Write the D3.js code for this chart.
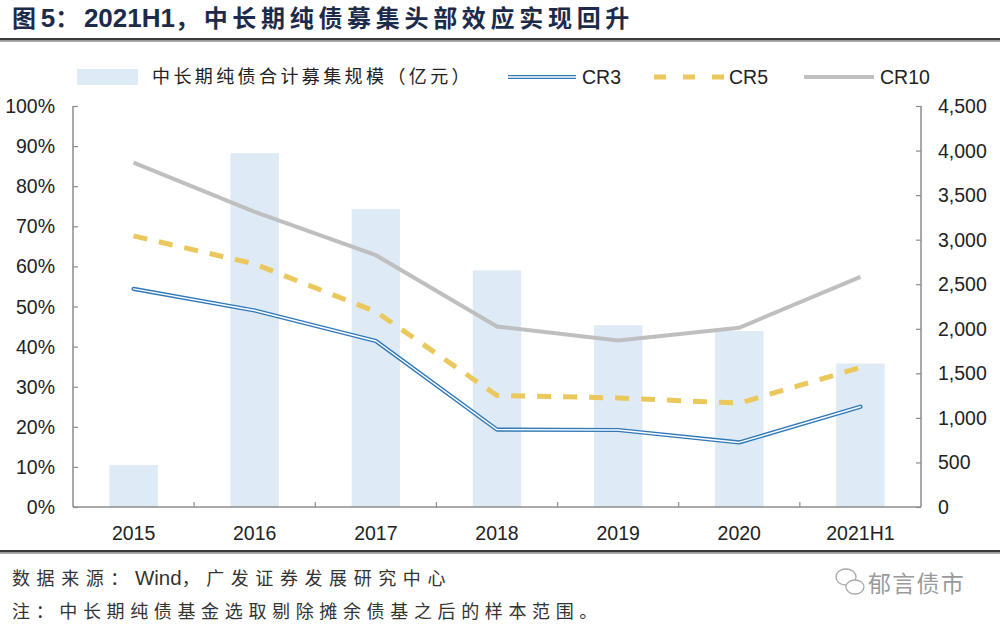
<!DOCTYPE html>
<html>
<head>
<meta charset="utf-8">
<script src="https://cdn.jsdelivr.net/npm/d3@7"></script>
<style>
  body { margin: 0; background: #fff; }
  svg { display: block; }
  text { font-family: "Liberation Sans", "Noto Sans CJK SC", sans-serif; }
</style>
</head>
<body>
<svg id="chart" width="1000" height="628"></svg>
<script>
const years = ["2015", "2016", "2017", "2018", "2019", "2020", "2021H1"];
const fundSize = [470, 3970, 3345, 2655, 2040, 1975, 1610];
const cr3 = [54.4, 49.0, 41.4, 19.3, 19.2, 16.1, 25.0];
const cr5 = [67.6, 60.6, 48.7, 27.8, 27.2, 25.9, 34.8];
const cr10 = [85.9, 73.6, 62.8, 45.0, 41.5, 44.7, 57.4];
const leftTicks = [0, 10, 20, 30, 40, 50, 60, 70, 80, 90, 100];
const rightTicks = [0, 500, 1000, 1500, 2000, 2500, 3000, 3500, 4000, 4500];

const svg = d3.select("#chart");
const plotLeft = 73, plotRight = 921, plotTop = 106, plotBottom = 507;
const axisColor = "#8c8c8c";
const labelColor = "#222";
const numSize = "19.5px";

// mixed CJK / latin text: latin kept tight, CJK spaced out to reach the target width
const fitText = (xPos, yPos, str, target, cjkSize, latinSize, attrs) => {
    const t = svg.append("text").attr("x", xPos).attr("y", yPos);
    Object.entries(attrs).forEach(([k, v]) => t.attr(k, v));
    const parts = str.match(/[\u3000-\u9fff\uff00-\uffef]+|[^\u3000-\u9fff\uff00-\uffef]+/g);
    let cjkCount = 0;
    const spans = parts.map(p => {
        const isCjk = /[\u3000-\u9fff\uff00-\uffef]/.test(p);
        if (isCjk) cjkCount += p.length;
        return t.append("tspan").attr("font-size", isCjk ? cjkSize : latinSize)
            .attr("class", isCjk ? "cjk" : "latin").text(p);
    });
    const w = t.node().getComputedTextLength();
    const ls = cjkCount ? (target - w) / cjkCount : 0;
    t.selectAll("tspan.cjk").attr("letter-spacing", ls);
    return t;
};

// title + rules
fitText(12, 27, "图5：2021H1，中长期纯债募集头部效应实现回升", 622, 24, 26,
    {"font-weight": "bold", "fill": "#1c2b4a"});
svg.append("rect").attr("x", 0).attr("y", 38).attr("width", 1000).attr("height", 2.5).attr("fill", "#3a3a3a");
svg.append("rect").attr("x", 0).attr("y", 41).attr("width", 1000).attr("height", 1).attr("fill", "#aaa");
svg.append("rect").attr("x", 0).attr("y", 550).attr("width", 1000).attr("height", 2.5).attr("fill", "#3a3a3a");
svg.append("rect").attr("x", 0).attr("y", 553).attr("width", 1000).attr("height", 1).attr("fill", "#aaa");

const x = d3.scaleBand().domain(years).range([plotLeft, plotRight]).paddingInner(0.6).paddingOuter(0.3);
const xEdge = d3.scaleBand().domain(years).range([plotLeft, plotRight]);
const yL = d3.scaleLinear().domain([0, 100]).range([plotBottom, plotTop]);
const yR = d3.scaleLinear().domain([0, 4500]).range([plotBottom, plotTop]);
const cx = d => x(d) + x.bandwidth() / 2;

// bars
svg.append("g").selectAll("rect").data(years).join("rect")
    .attr("x", d => x(d)).attr("width", x.bandwidth())
    .attr("y", (d, i) => yR(fundSize[i])).attr("height", (d, i) => plotBottom - yR(fundSize[i]))
    .attr("fill", "#deeaf6");

// axes
const leftAxis = svg.append("g").attr("transform", `translate(${plotLeft},0)`)
    .call(d3.axisRight(yL).tickValues(leftTicks).tickSize(5).tickFormat(""));
const rightAxis = svg.append("g").attr("transform", `translate(${plotRight},0)`)
    .call(d3.axisLeft(yR).tickValues(rightTicks).tickSize(5).tickFormat(""));
const bottomAxis = svg.append("g").attr("transform", `translate(0,${plotBottom})`)
    .call(d3.axisTop(xEdge).tickSize(0).tickFormat(""));
[leftAxis, rightAxis, bottomAxis].forEach(g => {
    g.select(".domain").attr("stroke", axisColor).attr("stroke-width", 1.5);
    g.selectAll(".tick line").attr("stroke", axisColor).attr("stroke-width", 1.2);
});
leftAxis.select(".domain").attr("d", `M0,${plotTop}V${plotBottom}`);
rightAxis.select(".domain").attr("d", `M0,${plotTop}V${plotBottom}`);
bottomAxis.select(".domain").attr("d", `M${plotLeft},0H${plotRight}`);
svg.append("g").selectAll("line").data(years.slice(1)).join("line")
    .attr("x1", d => xEdge(d)).attr("x2", d => xEdge(d))
    .attr("y1", plotBottom).attr("y2", plotBottom - 5)
    .attr("stroke", axisColor).attr("stroke-width", 1.2);

svg.append("g").selectAll("text").data(leftTicks).join("text")
    .attr("x", 55).attr("y", d => yL(d) + 7).attr("text-anchor", "end")
    .attr("font-size", numSize).attr("fill", labelColor).text(d => d + "%");
svg.append("g").selectAll("text").data(rightTicks).join("text")
    .attr("x", 938).attr("y", d => yR(d) + 7)
    .attr("font-size", numSize).attr("fill", labelColor).text(d => d3.format(",")(d));
svg.append("g").selectAll("text").data(years).join("text")
    .attr("x", d => cx(d)).attr("y", 540).attr("text-anchor", "middle")
    .attr("font-size", numSize).attr("fill", labelColor).text(d => d);

// lines
const line = vals => d3.line().x((d, i) => cx(years[i])).y(d => yL(d))(vals);
svg.append("path").attr("d", line(cr10)).attr("fill", "none")
    .attr("stroke", "#bfbfbf").attr("stroke-width", 4);
svg.append("path").attr("d", line(cr5)).attr("fill", "none")
    .attr("stroke", "#eac85c").attr("stroke-width", 5).attr("stroke-dasharray", "14,12");
svg.append("path").attr("d", line(cr3)).attr("fill", "none")
    .attr("stroke", "#2f78b9").attr("stroke-width", 4.2).attr("stroke-linejoin", "round").attr("stroke-linecap", "round");
svg.append("path").attr("d", line(cr3)).attr("fill", "none")
    .attr("stroke", "#ffffff").attr("stroke-width", 1.4).attr("stroke-linejoin", "round").attr("stroke-linecap", "round");

// legend
const ly = 77;
svg.append("rect").attr("x", 77).attr("y", ly - 8).attr("width", 61).attr("height", 16).attr("fill", "#deeaf6");
fitText(152, ly + 6, "中长期纯债合计募集规模（亿元）", 321, 18, 18, {"fill": labelColor});
svg.append("line").attr("x1", 508).attr("x2", 576).attr("y1", ly).attr("y2", ly)
    .attr("stroke", "#2f78b9").attr("stroke-width", 4.2);
svg.append("line").attr("x1", 508).attr("x2", 576).attr("y1", ly).attr("y2", ly)
    .attr("stroke", "#fff").attr("stroke-width", 1.4);
svg.append("text").attr("x", 582).attr("y", ly + 7).attr("font-size", numSize).attr("fill", labelColor).text("CR3");
svg.append("line").attr("x1", 654).attr("x2", 724).attr("y1", ly).attr("y2", ly)
    .attr("stroke", "#eac85c").attr("stroke-width", 5).attr("stroke-dasharray", "12,17");
svg.append("text").attr("x", 729).attr("y", ly + 7).attr("font-size", numSize).attr("fill", labelColor).text("CR5");
svg.append("line").attr("x1", 804).attr("x2", 874).attr("y1", ly).attr("y2", ly)
    .attr("stroke", "#bfbfbf").attr("stroke-width", 4);
svg.append("text").attr("x", 880).attr("y", ly + 7).attr("font-size", numSize).attr("fill", labelColor).text("CR10");

// footer
fitText(12, 585, "数据来源：Wind，广发证券发展研究中心", 440, 18, 20.5, {"fill": "#333"});
fitText(12, 618, "注：中长期纯债基金选取剔除摊余债基之后的样本范围。", 591, 18, 18, {"fill": "#333"});

// watermark
const wm = svg.append("g").attr("fill", "none").attr("stroke", "#aaa").attr("stroke-width", 1.3);
wm.append("ellipse").attr("cx", 846).attr("cy", 577).attr("rx", 10).attr("ry", 8);
wm.append("ellipse").attr("cx", 855).attr("cy", 587).attr("rx", 9).attr("ry", 7).attr("fill", "#fff");
fitText(868, 592, "郁言债市", 97, 23, 23, {"fill": "#9a9a9a"});
</script>
</body>
</html>
